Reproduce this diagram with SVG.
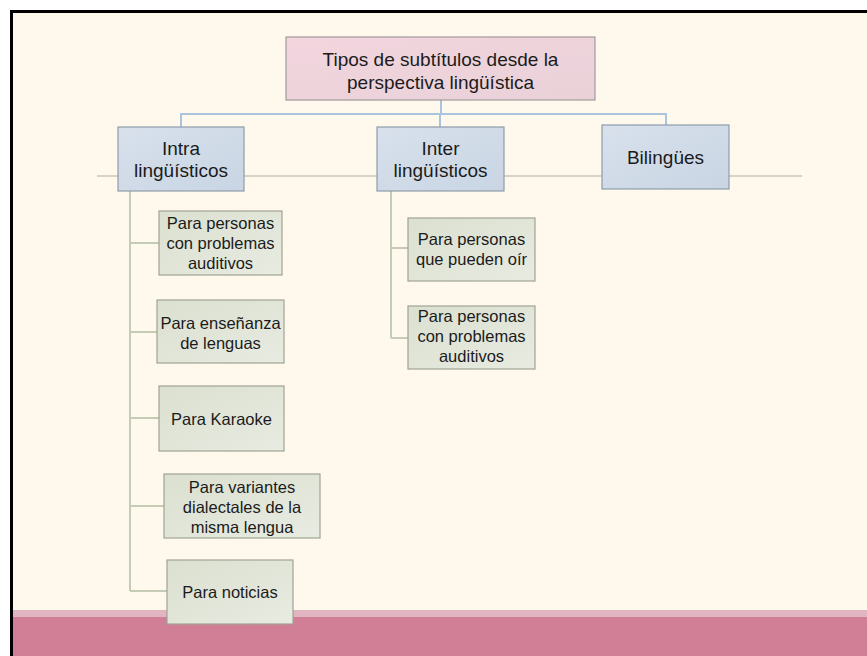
<svg xmlns="http://www.w3.org/2000/svg" width="867" height="656" viewBox="0 0 867 656">
<defs>
<linearGradient id="gRoot" x1="0" y1="0" x2="1" y2="1"><stop offset="0" stop-color="#f3d5de"/><stop offset="1" stop-color="#e9d1d8"/></linearGradient>
<linearGradient id="gL1" x1="0" y1="0" x2="1" y2="1"><stop offset="0" stop-color="#d8e1ec"/><stop offset="1" stop-color="#c9d5e4"/></linearGradient>
<linearGradient id="gL2" x1="0" y1="0" x2="1" y2="1"><stop offset="0" stop-color="#dbe0d0"/><stop offset="1" stop-color="#e8ebe1"/></linearGradient>
<style>
text{font-family:"Liberation Sans",Arial,sans-serif;fill:#1b1b1b;text-anchor:middle}
.h{font-size:19px}
.c{font-size:16.5px}
.root{fill:url(#gRoot);stroke:#a09a9c;stroke-width:1.2}
.l1{fill:url(#gL1);stroke:#8f9bab;stroke-width:1.2}
.l2{fill:url(#gL2);stroke:#9ea392;stroke-width:1.2}
.blue{stroke:#a9c4dc;stroke-width:2;fill:none}
.gray{stroke:#cbc6b9;stroke-width:1.5;fill:none}
.green{stroke:#c6cbb5;stroke-width:2;fill:none}
</style>
</defs>
<rect x="0" y="0" width="867" height="656" fill="#ffffff"/>
<rect x="13" y="13" width="854" height="643" fill="#fef9ec"/>
<rect x="13" y="610" width="854" height="7" fill="#e1b4c1"/>
<rect x="13" y="617" width="854" height="39" fill="#d07f97"/>
<path d="M11.5 660 V11.5 H870" fill="none" stroke="#000" stroke-width="3"/>
<g id="connectors">
<path class="gray" d="M97 176 H802"/>
<path class="blue" d="M441 100 V114 M181 127 V114 H666 V125 M440 114 V127"/>
<path class="green" d="M130 191 V591 M130 243 H159 M130 332 H157 M130 418 H159 M130 506 H164 M130 591 H167"/>
<path class="green" d="M391 191 V338 M391 248 H408 M391 338 H408"/>
</g>
<g id="root"><rect class="root" x="286" y="37" width="309" height="63"/>
<text class="h" x="440.5" y="66">Tipos de subtítulos desde la</text>
<text class="h" x="440.5" y="89">perspectiva lingüística</text></g>
<g id="intra"><rect class="l1" x="118" y="127" width="126" height="64"/>
<text class="h" x="181" y="155">Intra</text><text class="h" x="181" y="177">lingüísticos</text></g>
<g id="inter"><rect class="l1" x="377" y="127" width="127" height="64"/>
<text class="h" x="440.5" y="155">Inter</text><text class="h" x="440.5" y="177">lingüísticos</text></g>
<g id="bilingues"><rect class="l1" x="602" y="125" width="127" height="64"/>
<text class="h" x="665.5" y="164">Bilingües</text></g>
<g id="intra1"><rect class="l2" x="159" y="211" width="123" height="64"/>
<text class="c" x="220.5" y="229">Para personas</text><text class="c" x="220.5" y="249">con problemas</text><text class="c" x="220.5" y="269">auditivos</text></g>
<g id="intra2"><rect class="l2" x="157" y="300" width="127" height="63"/>
<text class="c" x="220.5" y="329">Para enseñanza</text><text class="c" x="220.5" y="349">de lenguas</text></g>
<g id="intra3"><rect class="l2" x="159" y="386" width="125" height="65"/>
<text class="c" x="221.5" y="425">Para Karaoke</text></g>
<g id="intra4"><rect class="l2" x="164" y="474" width="156" height="64"/>
<text class="c" x="242" y="493">Para variantes</text><text class="c" x="242" y="513">dialectales de la</text><text class="c" x="242" y="533">misma lengua</text></g>
<g id="intra5"><rect class="l2" x="167" y="560" width="126" height="64"/>
<text class="c" x="230" y="598">Para noticias</text></g>
<g id="inter1"><rect class="l2" x="408" y="218" width="127" height="63"/>
<text class="c" x="471.5" y="245">Para personas</text><text class="c" x="471.5" y="265">que pueden oír</text></g>
<g id="inter2"><rect class="l2" x="408" y="306" width="127" height="63"/>
<text class="c" x="471.5" y="322">Para personas</text><text class="c" x="471.5" y="342">con problemas</text><text class="c" x="471.5" y="362">auditivos</text></g>
</svg>
